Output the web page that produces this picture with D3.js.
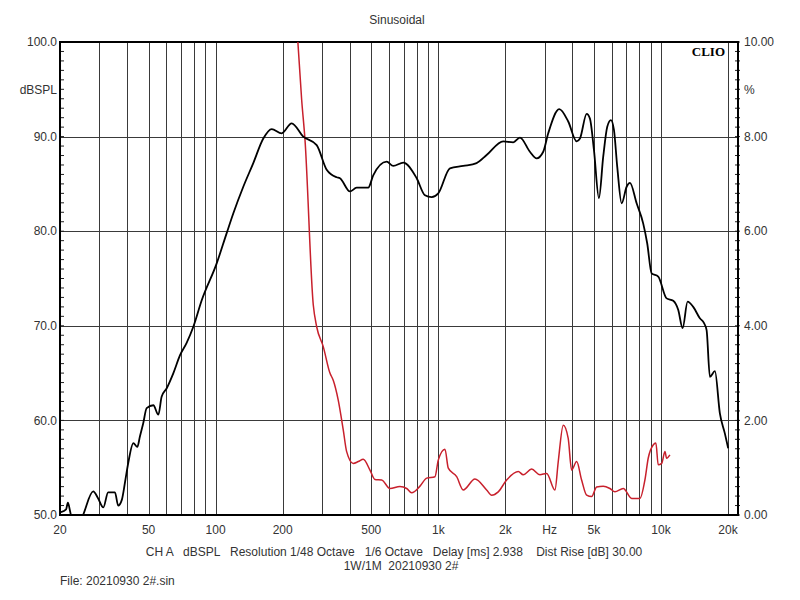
<!DOCTYPE html>
<html><head><meta charset="utf-8">
<script src="https://cdn.jsdelivr.net/npm/d3@7"></script>
<style>
body{margin:0;background:#fff;}
svg text{font-family:"Liberation Sans",Arial,sans-serif;white-space:pre;}
</style></head>
<body><svg id="c" width="800" height="600"></svg>
<script>
// ---- data ----
const splFreq = [20.2,21.3,21.7,22.2,23.4,25.4,28.2,29.6,31.3,32.9,35.3,36.5,37.9,39.2,40.5,42.7,44.5,45.7,47.3,49.0,52.5,55.3,57.2,60.3,64.6,69.2,74.1,79.4,86.6,101.1,112.1,120.1,133.1,147.6,163.7,178.5,197.9,219.5,247.4,284.3,315.3,349.7,361.8,401.1,429.8,484.5,510.2,586.2,627.8,696.3,799.6,871,933.3,999.7,1128,1294,1486,1648,1957,2171,2326,2579,2764,2960,3117,3492,3832,4181,4327,4637,4797,5000,5265,5505,5738,5962,6150,6363,6659,7013,7257,7775,8324,8676,9078,9721,10602,11350,11950,12510,13170,13960,14950,15590,16030,16590,17470,18390,19370,20040];
const splDb = [50.3,50.6,51.3,50.4,48.0,50.0,52.5,51.8,50.8,52.4,52.4,51.0,51.6,53.5,55.5,57.6,57.2,58.3,59.7,61.3,61.6,60.6,62.5,63.4,65.0,66.9,68.2,69.9,72.7,76.6,79.8,81.9,84.7,87.2,89.8,90.8,90.35,91.4,90.0,89.1,86.5,85.7,85.6,84.2,84.6,84.6,85.9,87.35,86.9,87.25,85.6,83.8,83.6,84.0,86.65,86.9,87.2,88.05,89.5,89.4,89.9,88.4,87.7,88.4,90.35,92.9,91.6,89.5,89.8,92.4,91.9,88.6,83.5,87.9,91.05,91.75,90.7,86.8,82.95,84.7,85.1,82.95,80.8,78.7,75.55,75.2,72.9,72.65,71.7,69.75,72.55,72.0,70.8,70.3,69.55,64.6,65.2,60.75,58.6,57.05];
const thdFreq = [231.8,243.5,251.9,274.5,284.3,304.3,326.1,337.4,355.3,374.2,387.6,415,437.1,460.3,493.3,519.6,556.7,606.8,672.6,720.9,759.1,827.5,886.6,966.3,999.7,1071,1109,1209,1294,1461,1648,1736,1859,2027,2286,2406,2625,2861,3067,3341,3457,3641,3832,3970,4181,4402,4637,4882,5140,5505,5898,6210,6771,7385,8044,8470,8764,9226,9488,9721,10070,10420,10600,10970];
const thdPct = [10.3,8.77,7.94,4.44,3.98,3.56,3.0,2.85,2.43,1.8,1.34,1.09,1.13,1.18,0.95,0.75,0.74,0.56,0.6,0.56,0.47,0.61,0.78,0.81,1.16,1.39,0.99,0.81,0.53,0.76,0.53,0.42,0.49,0.74,0.92,0.85,0.97,0.85,0.88,0.53,1.13,1.9,1.62,0.95,1.13,0.74,0.42,0.39,0.59,0.61,0.56,0.49,0.56,0.35,0.35,0.74,1.2,1.48,1.52,1.06,1.09,1.34,1.2,1.27];
const xLabelFreq = [20,50,100,200,500,1000,2000,3162,5000,10000,20000];
const xLabelText = ["20","50","100","200","500","1k","2k","Hz","5k","10k","20k"];
const xGridFreq = [30,40,50,60,70,80,90,100,200,300,400,500,600,700,800,900,1000,2000,3000,4000,5000,6000,7000,8000,9000,10000,20000];
const yLeftTicks = [50,60,70,80,90,100];
const yRightTicks = [0,2,4,6,8,10];
const title = "Sinusoidal";
const footer1 = "CH A   dBSPL   Resolution 1/48 Octave   1/6 Octave   Delay [ms] 2.938    Dist Rise [dB] 30.00";
const footer2 = "1W/1M  20210930 2#";
const fileText = "File: 20210930 2#.sin";

// ---- layout ----
const L=60,R=738,T=42,B=515;
const svg=d3.select("#c");
const x=d3.scaleLog().domain([20,22180]).range([L,R]);
const yL=d3.scaleLinear().domain([50,100]).range([B,T]);
const yR=d3.scaleLinear().domain([0,10]).range([B,T]);

svg.append("defs").append("clipPath").attr("id","clip").append("rect")
  .attr("x",L).attr("y",T).attr("width",R-L).attr("height",B-T);

// grid
svg.append("g").selectAll("line").data(xGridFreq).join("line")
  .attr("x1",d=>Math.round(x(d))+0.5).attr("x2",d=>Math.round(x(d))+0.5)
  .attr("y1",T).attr("y2",B).attr("stroke","#3a3a3a").attr("stroke-width",1);
svg.append("g").selectAll("line").data([60,70,80,90]).join("line")
  .attr("x1",L).attr("x2",R).attr("y1",d=>Math.round(yL(d))+0.5).attr("y2",d=>Math.round(yL(d))+0.5)
  .attr("stroke","#3a3a3a").attr("stroke-width",1);

// minor ticks
svg.append("g").selectAll("line").data(d3.range(50,100.1,1)).join("line")
  .attr("x1",L).attr("x2",L+4).attr("y1",d=>yL(d)).attr("y2",d=>yL(d)).attr("stroke","#222");
svg.append("g").selectAll("line").data(d3.range(0,10.01,0.2)).join("line")
  .attr("x1",R-3).attr("x2",R+2).attr("y1",d=>yR(d)).attr("y2",d=>yR(d)).attr("stroke","#222");

// frame
svg.append("rect").attr("x",L).attr("y",T).attr("width",R-L).attr("height",B-T)
  .attr("fill","none").attr("stroke","#000").attr("stroke-width",2);

// curves
const lineSpl=d3.line().x((d,i)=>x(splFreq[i])).y(d=>yL(d)).curve(d3.curveMonotoneX);
const lineThd=d3.line().x((d,i)=>x(thdFreq[i])).y(d=>yR(d)).curve(d3.curveMonotoneX);
const g=svg.append("g").attr("clip-path","url(#clip)");
g.append("path").attr("d",lineThd(thdPct)).attr("fill","none").attr("stroke","#c8202c").attr("stroke-width",1.5);
g.append("path").attr("d",lineSpl(splDb)).attr("fill","none").attr("stroke","#000").attr("stroke-width",1.8);

// labels
const tc="#333";
svg.append("g").selectAll("text").data(yLeftTicks).join("text")
  .attr("x",57).attr("y",d=>yL(d)).attr("dy","0.35em").attr("text-anchor","end")
  .attr("font-size",12).attr("fill",tc).text(d=>d.toFixed(1));
svg.append("text").attr("x",57).attr("y",yL(95)).attr("dy","0.35em").attr("text-anchor","end")
  .attr("font-size",12).attr("fill",tc).text("dBSPL");
svg.append("g").selectAll("text").data(yRightTicks).join("text")
  .attr("x",744).attr("y",d=>yR(d)).attr("dy","0.35em").attr("text-anchor","start")
  .attr("font-size",12).attr("fill",tc).text(d=>d.toFixed(2));
svg.append("text").attr("x",744).attr("y",yR(9)).attr("dy","0.35em")
  .attr("font-size",12).attr("fill",tc).text("%");
svg.append("g").selectAll("text").data(xLabelFreq).join("text")
  .attr("x",d=>x(d)).attr("y",534).attr("text-anchor","middle")
  .attr("font-size",12).attr("fill",tc).text((d,i)=>xLabelText[i]);

svg.append("text").attr("x",397).attr("y",24).attr("text-anchor","middle")
  .attr("font-size",12).attr("fill",tc).text(title);
svg.append("text").attr("x",725).attr("y",56).attr("text-anchor","end")
  .attr("font-family","'Liberation Serif','Times New Roman',serif").attr("font-weight","bold")
  .attr("font-size",13).attr("fill","#000").style("font-family","'Liberation Serif',serif").text("CLIO");
svg.append("text").attr("x",394).attr("y",556).attr("text-anchor","middle")
  .attr("font-size",12).attr("fill",tc).text(footer1);
svg.append("text").attr("x",401).attr("y",570).attr("text-anchor","middle")
  .attr("font-size",12).attr("fill",tc).text(footer2);
svg.append("text").attr("x",60).attr("y",585).attr("text-anchor","start")
  .attr("font-size",12).attr("fill",tc).text(fileText);
</script></body></html>
